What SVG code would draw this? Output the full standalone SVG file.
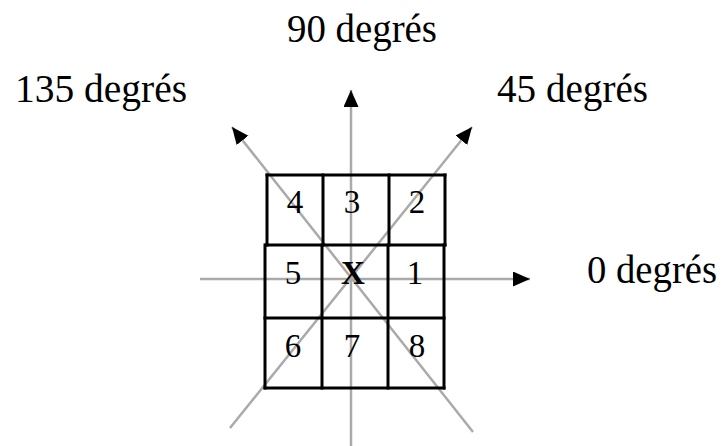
<svg xmlns="http://www.w3.org/2000/svg" width="724" height="446" viewBox="0 0 724 446">
<style>
.lbl{font-family:"Liberation Serif","Times New Roman",serif;font-size:40px;fill:#000}
.num{font-family:"Liberation Serif","Times New Roman",serif;font-size:33px;fill:#000;text-anchor:middle}
.ax{stroke:#aaa;stroke-width:2.5;fill:none}
.g{stroke:#000;stroke-width:3;fill:none;stroke-linecap:square}
</style>
<defs>
<marker id="ah" markerUnits="userSpaceOnUse" markerWidth="20" markerHeight="16" refX="17" refY="7.5" orient="auto">
<path d="M0,0 L17,7.5 L0,15 Z" fill="#000"/>
</marker>
</defs>
<rect width="724" height="446" fill="#fff"/>
<g id="connectors">
<line class="ax" x1="351" y1="446" x2="351" y2="90" marker-end="url(#ah)"/>
<line class="ax" x1="200" y1="279" x2="530" y2="279" marker-end="url(#ah)"/>
<line class="ax" x1="230" y1="428" x2="472" y2="127" marker-end="url(#ah)"/>
<line class="ax" x1="473" y1="432" x2="232" y2="127" marker-end="url(#ah)"/>
</g>
<g id="grid">
<line class="g" x1="267" y1="175" x2="445" y2="175"/>
<line class="g" x1="266" y1="245" x2="445" y2="245"/>
<line class="g" x1="265" y1="318" x2="444" y2="318"/>
<line class="g" x1="265" y1="388" x2="444" y2="388"/>
<line class="g" x1="267" y1="175" x2="267" y2="245"/>
<line class="g" x1="265" y1="245" x2="265" y2="388"/>
<line class="g" x1="445" y1="175" x2="445" y2="245"/>
<line class="g" x1="444" y1="245" x2="444" y2="388"/>
<line class="g" x1="323" y1="175" x2="323" y2="245"/>
<line class="g" x1="322" y1="245" x2="322" y2="388"/>
<line class="g" x1="389" y1="175" x2="389" y2="245" stroke="#555"/>
<line class="g" x1="388" y1="245" x2="388" y2="388"/>
</g>
<g id="cells">
<text class="num" x="295" y="213">4</text>
<text class="num" x="352" y="213">3</text>
<text class="num" x="417" y="213">2</text>
<text class="num" x="293" y="284">5</text>
<text class="num" x="353" y="284" font-weight="bold">X</text>
<text class="num" x="415" y="284">1</text>
<text class="num" x="293" y="357">6</text>
<text class="num" x="352" y="357">7</text>
<text class="num" x="417" y="357">8</text>
</g>
<g id="labels">
<text class="lbl" x="287" y="42" textLength="150" lengthAdjust="spacingAndGlyphs">90 degrés</text>
<text class="lbl" x="15" y="102" textLength="172" lengthAdjust="spacingAndGlyphs">135 degrés</text>
<text class="lbl" x="497" y="102" textLength="151" lengthAdjust="spacingAndGlyphs">45 degrés</text>
<text class="lbl" x="587" y="283" textLength="130" lengthAdjust="spacingAndGlyphs">0 degrés</text>
</g>
</svg>
